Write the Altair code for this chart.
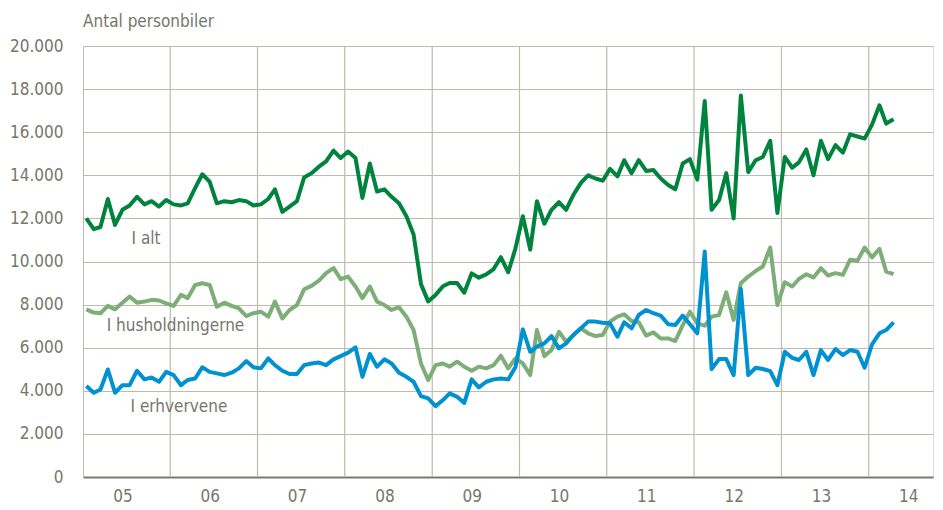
import altair as alt
import pandas as pd

# ---- data (thousands of cars per month, Jan 2005 - Apr 2014) ----
i_alt = [
    12.0, 11.5, 11.6, 12.9, 11.7, 12.4, 12.6, 13.0, 12.65, 12.8, 12.55, 12.85,
    12.65, 12.6, 12.7, 13.4, 14.05, 13.7, 12.7, 12.8, 12.75, 12.85, 12.8, 12.6,
    12.65, 12.9, 13.35, 12.3, 12.55, 12.8, 13.9, 14.1, 14.4, 14.65, 15.15, 14.8,
    15.1, 14.8, 12.95, 14.55, 13.25, 13.35, 13.0, 12.7, 12.1, 11.25, 8.95, 8.15,
    8.45, 8.85, 9.0, 9.0, 8.55, 9.45, 9.25, 9.4, 9.65, 10.2, 9.5, 10.6,
    12.1, 10.55, 12.8, 11.75, 12.4, 12.75, 12.4, 13.1, 13.65, 14.0, 13.85, 13.75,
    14.3, 13.95, 14.7, 14.1, 14.7, 14.2, 14.25, 13.85, 13.55, 13.35, 14.55, 14.75,
    13.8, 17.45, 12.4, 12.85, 14.1, 12.0, 17.7, 14.15, 14.7, 14.85, 15.6, 12.25,
    14.85, 14.35, 14.6, 15.2, 14.0, 15.6, 14.75, 15.4, 15.05, 15.9, 15.8, 15.7,
    16.35, 17.25, 16.4, 16.6,
]
i_husholdningerne = [
    7.78, 7.63, 7.6, 7.94, 7.78, 8.09, 8.37, 8.09, 8.14, 8.22, 8.19, 8.06,
    7.94, 8.45, 8.3, 8.91, 8.99, 8.91, 7.9, 8.09, 7.94, 7.83, 7.47, 7.6,
    7.67, 7.44, 8.14, 7.36, 7.75, 7.98, 8.71, 8.87, 9.11, 9.46, 9.69, 9.18,
    9.3, 8.84, 8.3, 8.84, 8.14, 7.98, 7.75, 7.88, 7.44, 6.82, 5.27, 4.5,
    5.19, 5.27, 5.12, 5.35, 5.12, 4.93, 5.12, 5.04, 5.19, 5.63, 5.04, 5.5,
    5.27, 4.73, 6.82, 5.61, 5.89, 6.74, 6.28, 6.59, 6.9, 6.67, 6.54, 6.59,
    7.21, 7.44, 7.55, 7.24, 7.18, 6.56, 6.71, 6.43, 6.43, 6.31, 7.05, 7.67,
    7.13, 7.02, 7.44, 7.52, 8.57, 7.29, 8.99, 9.3, 9.56, 9.77, 10.65, 7.98,
    9.04, 8.84, 9.19, 9.41, 9.26, 9.69, 9.35, 9.46, 9.38, 10.08, 10.03, 10.65,
    10.19, 10.59, 9.53, 9.41,
]
i_erhvervene = [
    4.22, 3.91, 4.06, 4.99, 3.91, 4.26, 4.26, 4.93, 4.53, 4.62, 4.42, 4.88,
    4.73, 4.26, 4.5, 4.57, 5.09, 4.88, 4.81, 4.73, 4.84, 5.04, 5.38, 5.09,
    5.04, 5.5, 5.19, 4.93, 4.78, 4.78, 5.19, 5.27, 5.31, 5.19, 5.46, 5.61,
    5.77, 6.02, 4.65, 5.71, 5.12, 5.46, 5.27, 4.84, 4.65, 4.42, 3.75, 3.65,
    3.29, 3.57, 3.88, 3.72, 3.44, 4.53, 4.16, 4.42, 4.53, 4.57, 4.53, 5.09,
    6.85, 5.81, 6.05, 6.2, 6.54, 5.97, 6.2, 6.59, 6.9, 7.21, 7.21, 7.16,
    7.13, 6.51, 7.18, 6.9, 7.52, 7.75, 7.6, 7.49, 7.09, 7.05, 7.49, 7.09,
    6.67, 10.46, 5.01, 5.47, 5.47, 4.73, 8.73, 4.73, 5.07, 5.01, 4.91, 4.26,
    5.81, 5.53, 5.43, 5.81, 4.73, 5.89, 5.43, 5.94, 5.66, 5.89, 5.81, 5.07,
    6.16, 6.67, 6.82, 7.18,
]
series_names = ["I husholdningerne", "I erhvervene", "I alt"]
series_colors = ["#7dae77", "#0092d0", "#00843d"]
years = list(range(2005, 2015))
y_ticks = list(range(0, 20001, 2000))

# annotations (label text, anchor date, anchor value)
ann_text = ["I alt", "I husholdningerne", "I erhvervene"]
ann_date = ["2005-07-23", "2005-04-10", "2005-07-19"]
ann_value = [11050, 7000, 3240]

# ---- build tables ----
months = pd.date_range("2005-01-01", periods=len(i_alt), freq="MS") + pd.Timedelta(days=14)
rows = []
for name, vals in zip(["I alt", "I husholdningerne", "I erhvervene"],
                      [i_alt, i_husholdningerne, i_erhvervene]):
    for d, v in zip(months, vals):
        rows.append({"dato": d.strftime("%Y-%m-%d"), "antal": v * 1000, "serie": name})
df = pd.DataFrame(rows)
grid_df = pd.DataFrame({"dato": [f"{y}-01-01" for y in years[1:]]})
ann_df = pd.DataFrame({"dato": ann_date, "antal": ann_value, "tekst": ann_text})

FONT = "DejaVu Sans Condensed"
FS = 17
TXT = "#76766a"
GRID = "#bdbaae"

x_scale = alt.Scale(type="utc", domain=[alt.DateTime(year=2005, month=1, date=1, utc=True),
                                        alt.DateTime(year=2014, month=9, date=27, utc=True)])
y_scale = alt.Scale(domain=[0, 20000], nice=False)

x_axis = alt.Axis(
    values=[alt.DateTime(year=y, month=6, date=15, utc=True) for y in years],
    labelExpr="utcFormat(datum.value, '%y')",
    grid=False, ticks=False, domainColor="#7a796d", domainWidth=2,
    labelPadding=11, labelFontSize=FS, labelFont=FONT, labelColor=TXT, title=None,
)
y_axis = alt.Axis(
    values=y_ticks,
    labelExpr="replace(format(datum.value, ','), ',', '.')",
    grid=True, gridColor=GRID, gridWidth=1.2, domain=True, domainColor=GRID,
    ticks=False, labelPadding=20, labelFontSize=FS, labelFont=FONT, labelColor=TXT,
    title=None,
)

vgrid = alt.Chart(grid_df).mark_rule(color=GRID, strokeWidth=1.2).encode(
    x=alt.X("dato:T", scale=x_scale, axis=x_axis)
)

lines = alt.Chart(df).mark_line(strokeWidth=4, strokeJoin="round").encode(
    x=alt.X("dato:T", scale=x_scale, axis=x_axis),
    y=alt.Y("antal:Q", scale=y_scale, axis=y_axis),
    color=alt.Color("serie:N", scale=alt.Scale(domain=series_names, range=series_colors), legend=None),
    order=alt.Order("dato:T"),
)

labels = alt.Chart(ann_df).mark_text(
    align="left", baseline="middle", fontSize=FS, font=FONT, color=TXT
).encode(
    x=alt.X("dato:T", scale=x_scale),
    y=alt.Y("antal:Q", scale=y_scale),
    text="tekst:N",
)

chart = alt.layer(vgrid, lines, labels).properties(
    width=850,
    height=431,
    autosize=alt.AutoSizeParams(type="none"),
    padding={"left": 75, "top": 38, "right": 2, "bottom": 30},
    title=alt.TitleParams("Antal personbiler", anchor="start", frame="group", fontSize=FS,
                          font=FONT, color=TXT, fontWeight="normal", offset=6),
).configure_view(stroke=None).configure(background="white")

chart.save("out.html", embed_options={"renderer": "svg", "actions": False})
